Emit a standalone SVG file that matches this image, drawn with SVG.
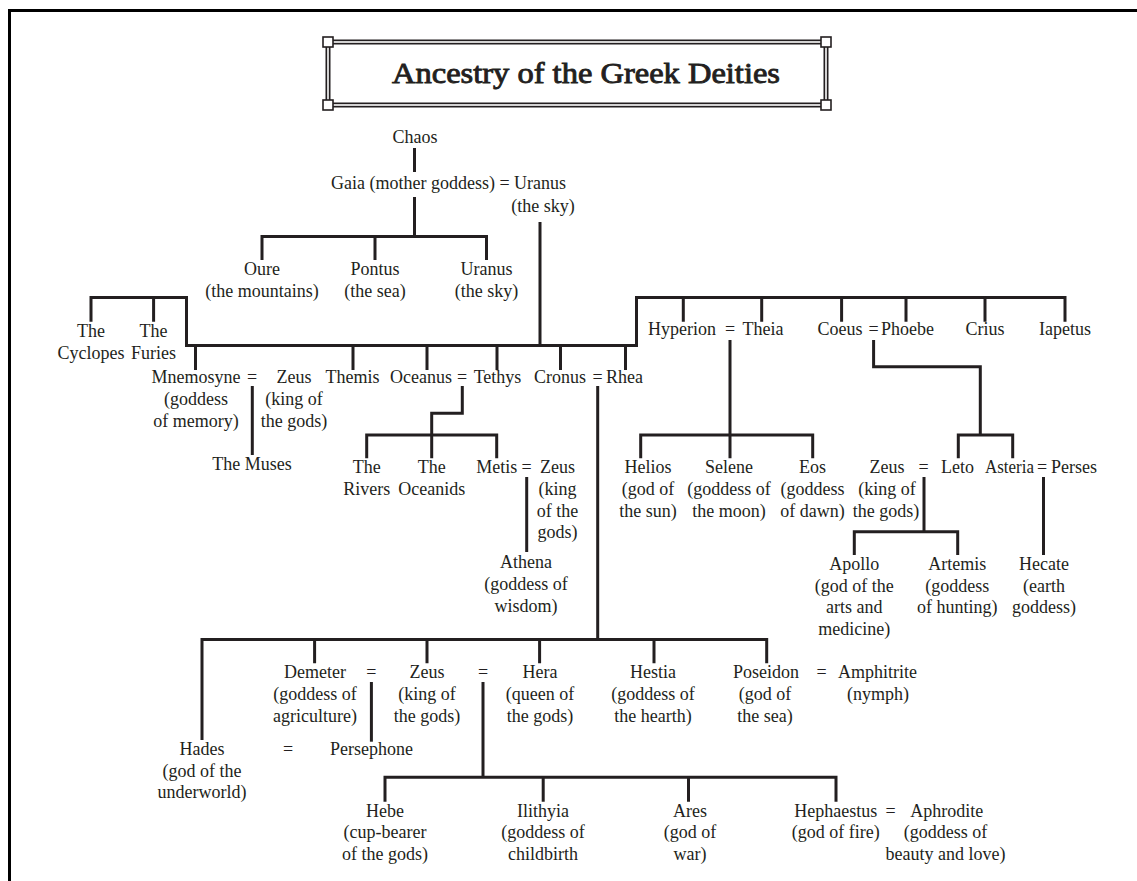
<svg xmlns="http://www.w3.org/2000/svg" width="1137" height="881" viewBox="0 0 1137 881">
<style>
.t{font-family:"Liberation Serif","Times New Roman",serif;font-size:18px;fill:#231f20}
.m{text-anchor:middle}
.ttl{font-family:"Liberation Serif","Times New Roman",serif;font-size:30px;font-weight:normal;fill:#231f20;stroke:#231f20;stroke-width:0.9;text-anchor:middle}
.c{fill:none;stroke:#231f20;stroke-width:3;stroke-linecap:butt;stroke-linejoin:miter}
.sq{fill:#fff;stroke:#231f20;stroke-width:1.6}
</style>
<rect x="0" y="0" width="1137" height="881" fill="#fff"/>
<path d="M9.5,881 V10.5 H1137" fill="none" stroke="#000" stroke-width="3"/>
<g id="title">
<rect x="328" y="42" width="498" height="63" fill="none" stroke="#231f20" stroke-width="5"/>
<rect x="328" y="42" width="498" height="63" fill="none" stroke="#fff" stroke-width="1.6"/>
<rect class="sq" x="323" y="37" width="10" height="10"/>
<rect class="sq" x="821" y="37" width="10" height="10"/>
<rect class="sq" x="323" y="100" width="10" height="10"/>
<rect class="sq" x="821" y="100" width="10" height="10"/>
<text class="ttl" x="586" y="83" textLength="388" lengthAdjust="spacingAndGlyphs">Ancestry of the Greek Deities</text>
</g>
<g id="connectors">
<path class="c" d="M414.5,148 V172"/>
<path class="c" d="M414.5,197 V236.5 M262,260 V236.5 H486.5 V260 M375,236.5 V260"/>
<path class="c" d="M540,222 V345.5"/>
<path class="c" d="M91,321.7 V297.5 H186.5 V345.5 H636.5 V297.5 H1065 V321.7 M153.6,297.5 V321.7"/>
<path class="c" d="M195.5,345.5 V370 M353,345.5 V370 M427,345.5 V370 M497,345.5 V370 M560.5,345.5 V370 M625.5,345.5 V370"/>
<path class="c" d="M683.3,297.5 V321.7 M761.7,297.5 V321.7 M841.6,297.5 V321.7 M906,297.5 V321.7 M985,297.5 V321.7"/>
<path class="c" d="M252.3,386 V455"/>
<path class="c" d="M462.3,386 V413.3 H431.7 V458.3 M366.7,458.3 V435 H496.7 V458.3"/>
<path class="c" d="M526.7,477 V552"/>
<path class="c" d="M597.7,386 V639.5 M202,740 V639.5 H766.7 V663.3 M314.6,639.5 V663.3 M427,639.5 V663.3 M539.6,639.5 V663.3 M654,639.5 V663.3"/>
<path class="c" d="M730,340 V458.3 M640.7,458.3 V435 H812.7 V458.3"/>
<path class="c" d="M873.6,340 V366.7 H980.3 V435 M958.3,458.3 V435 H1012.7 V458.3"/>
<path class="c" d="M924,477 V531.7 M854.3,555 V531.7 H957.7 V555"/>
<path class="c" d="M1043.5,477 V555"/>
<path class="c" d="M371.4,682 V741.7"/>
<path class="c" d="M483,682 V777.3 M385,801.7 V777.3 H836 V801.7 M543.2,777.3 V801.7 M688.5,777.3 V801.7"/>
</g>
<g id="chaos"><text class="t m" x="415" y="143">Chaos</text></g>
<g id="gaia-uranus"><text class="t" x="331" y="189">Gaia (mother goddess) = Uranus</text><text class="t m" x="543" y="212">(the sky)</text></g>
<g id="oure"><text class="t m" x="262" y="275">Oure</text><text class="t m" x="262" y="297">(the mountains)</text></g>
<g id="pontus"><text class="t m" x="375" y="275">Pontus</text><text class="t m" x="375" y="297">(the sea)</text></g>
<g id="uranus2"><text class="t m" x="486.5" y="275">Uranus</text><text class="t m" x="486.5" y="297">(the sky)</text></g>
<g id="cyclopes"><text class="t m" x="91" y="337">The</text><text class="t m" x="91" y="358.5">Cyclopes</text></g>
<g id="furies"><text class="t m" x="153.6" y="337">The</text><text class="t m" x="153.6" y="358.5">Furies</text></g>
<g id="mnemosyne"><text class="t m" x="196" y="383">Mnemosyne</text><text class="t m" x="252" y="383">=</text><text class="t m" x="196" y="405">(goddess</text><text class="t m" x="196" y="426.7">of memory)</text></g>
<g id="zeus1"><text class="t m" x="294" y="383">Zeus</text><text class="t m" x="294" y="405">(king of</text><text class="t m" x="294" y="426.7">the gods)</text></g>
<g id="muses"><text class="t m" x="252" y="470">The Muses</text></g>
<g id="themis"><text class="t m" x="352.5" y="383">Themis</text></g>
<g id="oceanus-tethys"><text class="t m" x="421" y="383">Oceanus</text><text class="t m" x="462" y="383">=</text><text class="t m" x="497.5" y="383">Tethys</text></g>
<g id="rivers"><text class="t m" x="366.7" y="473.3">The</text><text class="t m" x="366.7" y="495">Rivers</text></g>
<g id="oceanids"><text class="t m" x="431.7" y="473.3">The</text><text class="t m" x="431.7" y="495">Oceanids</text></g>
<g id="metis-zeus"><text class="t m" x="496.7" y="473.3">Metis</text><text class="t m" x="526.7" y="473.3">=</text><text class="t m" x="557.5" y="473.3">Zeus</text><text class="t m" x="557.5" y="495">(king</text><text class="t m" x="557.5" y="516.7">of the</text><text class="t m" x="557.5" y="538.3">gods)</text></g>
<g id="athena"><text class="t m" x="526" y="568">Athena</text><text class="t m" x="526" y="590">(goddess of</text><text class="t m" x="526" y="612">wisdom)</text></g>
<g id="cronus-rhea"><text class="t m" x="560" y="383">Cronus</text><text class="t m" x="597.5" y="383">=</text><text class="t" x="606" y="383">Rhea</text></g>
<g id="hyperion-theia"><text class="t m" x="682" y="335">Hyperion</text><text class="t m" x="730" y="335">=</text><text class="t m" x="763" y="335">Theia</text></g>
<g id="coeus-phoebe"><text class="t m" x="840" y="335">Coeus</text><text class="t m" x="873.6" y="335">=</text><text class="t m" x="907.5" y="335">Phoebe</text></g>
<g id="crius"><text class="t m" x="985" y="335">Crius</text></g>
<g id="iapetus"><text class="t m" x="1065" y="335">Iapetus</text></g>
<g id="helios"><text class="t m" x="648" y="473.3">Helios</text><text class="t m" x="648" y="495">(god of</text><text class="t m" x="648" y="516.7">the sun)</text></g>
<g id="selene"><text class="t m" x="729" y="473.3">Selene</text><text class="t m" x="729" y="495">(goddess of</text><text class="t m" x="729" y="516.7">the moon)</text></g>
<g id="eos"><text class="t m" x="812.5" y="473.3">Eos</text><text class="t m" x="812.5" y="495">(goddess</text><text class="t m" x="812.5" y="516.7">of dawn)</text></g>
<g id="zeus-leto"><text class="t m" x="887" y="473.3">Zeus</text><text class="t m" x="887" y="495">(king of</text><text class="t m" x="886" y="516.7">the gods)</text><text class="t m" x="923.5" y="473.3">=</text><text class="t m" x="957.5" y="473.3">Leto</text></g>
<g id="asteria-perses"><text class="t" x="985" y="473.3" textLength="49" lengthAdjust="spacingAndGlyphs">Asteria</text><text class="t m" x="1042" y="473.3">=</text><text class="t" x="1051" y="473.3">Perses</text></g>
<g id="apollo"><text class="t m" x="854.3" y="570">Apollo</text><text class="t m" x="854.3" y="591.7">(god of the</text><text class="t m" x="854.3" y="613.3">arts and</text><text class="t m" x="854.3" y="635">medicine)</text></g>
<g id="artemis"><text class="t m" x="957.3" y="570">Artemis</text><text class="t m" x="957.3" y="591.7">(goddess</text><text class="t m" x="957.3" y="613.3">of hunting)</text></g>
<g id="hecate"><text class="t m" x="1044" y="570">Hecate</text><text class="t m" x="1044" y="591.7">(earth</text><text class="t m" x="1044" y="613.3">goddess)</text></g>
<g id="demeter"><text class="t m" x="315" y="678.3">Demeter</text><text class="t m" x="315" y="700">(goddess of</text><text class="t m" x="315" y="721.7">agriculture)</text><text class="t m" x="371.4" y="678.3">=</text></g>
<g id="zeus3"><text class="t m" x="427" y="678.3">Zeus</text><text class="t m" x="427" y="700">(king of</text><text class="t m" x="427" y="721.7">the gods)</text><text class="t m" x="483" y="678.3">=</text></g>
<g id="hera"><text class="t m" x="540" y="678.3">Hera</text><text class="t m" x="540" y="700">(queen of</text><text class="t m" x="540" y="721.7">the gods)</text></g>
<g id="hestia"><text class="t m" x="653" y="678.3">Hestia</text><text class="t m" x="653" y="700">(goddess of</text><text class="t m" x="653" y="721.7">the hearth)</text></g>
<g id="poseidon"><text class="t m" x="766" y="678.3">Poseidon</text><text class="t m" x="765" y="700">(god of</text><text class="t m" x="765" y="721.7">the sea)</text><text class="t m" x="821.7" y="678.3">=</text></g>
<g id="amphitrite"><text class="t m" x="877.5" y="678.3">Amphitrite</text><text class="t m" x="878" y="700">(nymph)</text></g>
<g id="hades-persephone"><text class="t m" x="202" y="755">Hades</text><text class="t m" x="202" y="776.7">(god of the</text><text class="t m" x="202" y="798.3">underworld)</text><text class="t m" x="288" y="755">=</text><text class="t m" x="371.6" y="755">Persephone</text></g>
<g id="hebe"><text class="t m" x="385" y="816.7">Hebe</text><text class="t m" x="385" y="838.3">(cup-bearer</text><text class="t m" x="385" y="860">of the gods)</text></g>
<g id="ilithyia"><text class="t m" x="543" y="816.7">Ilithyia</text><text class="t m" x="543" y="838.3">(goddess of</text><text class="t m" x="543" y="860">childbirth</text></g>
<g id="ares"><text class="t m" x="690" y="816.7">Ares</text><text class="t m" x="690" y="838.3">(god of</text><text class="t m" x="690" y="860">war)</text></g>
<g id="hephaestus-aphrodite"><text class="t m" x="835.7" y="816.7">Hephaestus</text><text class="t m" x="835.7" y="838.3">(god of fire)</text><text class="t m" x="890.7" y="816.7">=</text><text class="t m" x="946.7" y="816.7">Aphrodite</text><text class="t m" x="945.5" y="838.3">(goddess of</text><text class="t m" x="945.5" y="860">beauty and love)</text></g>
</svg>
